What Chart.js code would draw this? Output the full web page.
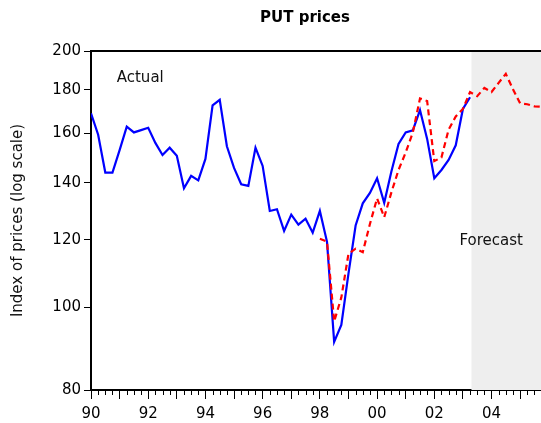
<!DOCTYPE html>
<html><head><meta charset="utf-8">
<script src="https://cdn.jsdelivr.net/npm/chart.js@4/dist/chart.umd.min.js"></script>
<style>html,body{margin:0;padding:0;background:#fff}canvas{display:block}</style>
</head><body>
<canvas id="c" width="541" height="423"></canvas>
<script>
// ---- data (quarterly, first observation 1990Q1) ----
const startYear = 1990;
const actual = [
  169, 159.5, 144, 144,
  153, 163, 160.5, 161.5,
  162.5, 156, 151, 154,
  150.7, 138, 142.7, 141,
  149.4, 172.7, 175.3, 154.6,
  145.8, 139.5, 138.9, 154,
  146.6, 129.8, 130.4, 123,
  128.5, 125.1, 127.1, 122.4,
  129.8, 119.4, 91.1, 95.4,
  109.6, 124.8, 132.5, 136.3,
  141.8, 132.7, 144.4, 155.6,
  160.5, 161.4, 170.5, 157.7,
  141.8, 145, 149, 155,
  171, 176.5
];
const fittedStartYear = 1998; // 1998Q1
const fitted = [
  120.4, 119.5, 96.3, 102.7,
  115.6, 117.2, 116.1, 125.3,
  134.3, 127.6, 136.5, 145,
  152, 160.5, 175.9, 174.7,
  148.5, 150, 161.7, 167.6,
  171, 179, 177, 181,
  179, 183.5, 188, 180.4,
  173.6, 173.2, 172.2, 172
];
const yTicks = [80, 100, 120, 140, 160, 180, 200];
const xTickYears = [1990,1991,1992,1993,1994,1995,1996,1997,1998,1999,2000,2001,2002,2003,2004,2005];
const xLabelYears = [1990,1992,1994,1996,1998,2000,2002,2004];
const xRange = [1990, 2005.73];
const yRange = [80, 200];
const forecastShadeFrom = 2003.3;
const titleText = 'PUT prices';
const yTitle = 'Index of prices (log scale)';
const notes = [
  { text: 'Actual', x: 1990.9, y: 186 },
  { text: 'Forecast', x: 2002.88, y: 119.5 }
];

// ---- build points ----
const actualPoints = actual.map((v, i) => ({ x: startYear + i / 4, y: v }));
const fittedPoints = fitted.map((v, i) => ({ x: fittedStartYear + i / 4, y: v }));
const FONT = 'DejaVu Sans';

const shadePlugin = {
  id: 'shade',
  beforeDatasetsDraw(chart) {
    const { ctx, chartArea: a, scales: { x } } = chart;
    const x0 = x.getPixelForValue(forecastShadeFrom);
    ctx.save();
    ctx.fillStyle = '#eeeeee';
    ctx.fillRect(x0, a.top, a.right - x0, a.bottom - a.top);
    ctx.restore();
  }
};

const framePlugin = {
  id: 'frame',
  afterDraw(chart) {
    const { ctx, chartArea: a, scales: { x } } = chart;
    ctx.save();
    ctx.strokeStyle = '#000';
    ctx.lineWidth = 2;
    ctx.beginPath();
    ctx.moveTo(a.left, a.top);
    ctx.lineTo(a.right, a.top);
    ctx.stroke();
    // minor quarterly ticks
    ctx.lineWidth = 1;
    ctx.beginPath();
    for (let yr = xRange[0]; yr < xRange[1]; yr++) {
      for (let q = 1; q < 4; q++) {
        const v = yr + q / 4;
        if (v > xRange[1]) break;
        const px = Math.round(x.getPixelForValue(v)) + 0.5;
        ctx.moveTo(px, a.bottom);
        ctx.lineTo(px, a.bottom + 5);
      }
    }
    ctx.stroke();
    ctx.restore();
  }
};

const textPlugin = {
  id: 'texts',
  afterDraw(chart) {
    const { ctx, chartArea: a, scales: { x, y } } = chart;
    ctx.save();
    ctx.fillStyle = '#000';
    ctx.font = 'bold 15px "' + FONT + '"';
    ctx.textAlign = 'center';
    ctx.textBaseline = 'middle';
    ctx.fillText(titleText, 305, 18);
    ctx.font = '15px "' + FONT + '"';
    ctx.textAlign = 'left';
    ctx.fillStyle = '#111';
    notes.forEach(n => ctx.fillText(n.text, x.getPixelForValue(n.x), y.getPixelForValue(n.y)));
    ctx.restore();
  }
};

new Chart(document.getElementById('c'), {
  type: 'line',
  data: {
    datasets: [
      { label: 'Forecast', data: fittedPoints, borderColor: '#ff0000', borderWidth: 2.2,
        borderDash: [6, 4], pointRadius: 0, fill: false, tension: 0, order: 0 },
      { label: 'Actual', data: actualPoints, borderColor: '#0000ff', borderWidth: 2.2,
        pointRadius: 0, fill: false, tension: 0, order: 1 }
    ]
  },
  options: {
    responsive: false,
    animation: false,
    devicePixelRatio: 1,
    layout: { padding: { top: 51, left: 0, right: 0, bottom: 0 } },
    plugins: { legend: { display: false }, tooltip: { enabled: false }, title: { display: false } },
    scales: {
      x: {
        type: 'linear',
        min: xRange[0], max: xRange[1],
        afterBuildTicks: s => { s.ticks = xTickYears.map(v => ({ value: v })); },
        afterFit: s => { s.height = 33; },
        ticks: {
          autoSkip: false, maxRotation: 0, minRotation: 0, padding: 6,
          color: '#000', font: { family: FONT, size: 15 },
          callback: v => xLabelYears.includes(v) ? String(v % 100).padStart(2, '0') : ''
        },
        grid: { drawOnChartArea: false, drawTicks: true, tickLength: 9, tickColor: '#000', tickWidth: 1 },
        border: { display: true, color: '#000', width: 2 }
      },
      y: {
        type: 'logarithmic',
        min: yRange[0], max: yRange[1],
        afterBuildTicks: s => { s.ticks = yTicks.map(v => ({ value: v })); },
        afterFit: s => { s.width = 91; },
        ticks: {
          padding: 3, color: '#000', font: { family: FONT, size: 15 },
          callback: v => String(v)
        },
        grid: { drawOnChartArea: false, drawTicks: true, tickLength: 7, tickColor: '#000', tickWidth: 1 },
        border: { display: true, color: '#000', width: 2 },
        title: { display: true, text: yTitle, color: '#111', font: { family: FONT, size: 15 }, padding: { top: 9, bottom: 0 } }
      }
    }
  },
  plugins: [shadePlugin, framePlugin, textPlugin]
});
</script>
</body></html>
